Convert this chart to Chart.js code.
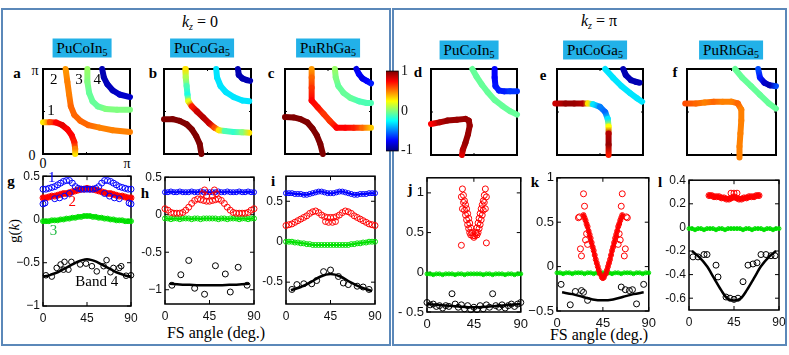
<!DOCTYPE html>
<html>
<head>
<meta charset="utf-8">
<script src="https://cdn.jsdelivr.net/npm/chart.js@4.4.1/dist/chart.umd.min.js"></script>
<style>
body { margin: 0; background: #fff; }
#fig { position: relative; width: 789px; height: 355px; overflow: hidden; font-family: "Liberation Serif", "Times New Roman", serif; color: #000; }
.frame { position: absolute; border: 2px solid #5b88b9; box-sizing: border-box; }
.pc { position: absolute; }
.t { position: absolute; white-space: nowrap; line-height: 1; transform: translate(-50%, -50%); color: #000; }
.cmp { background: #22b1e8; font-size: 15px; padding: 2px 4px 2px 4px; }
.cmp sub { font-size: 10px; vertical-align: -3px; line-height: 0; }
.lt { font-weight: bold; font-size: 15px; }
.kz { font-size: 16px; }
.kz sub { font-size: 10px; vertical-align: -3px; line-height: 0; }
</style>
</head>
<body>
<div id="fig">
  <div class="frame" style="left:1px;top:8px;width:390px;height:338px"></div>
  <div class="frame" style="left:392px;top:8px;width:395px;height:338px"></div>

  <div class="t kz" style="left:200px;top:22px"><i>k</i><sub><i>z</i></sub> = 0</div>
  <div class="t kz" style="left:599px;top:21px"><i>k</i><sub><i>z</i></sub> = π</div>

  <div class="t cmp" style="left:82px;top:48px">PuCoIn<sub>5</sub></div>
  <div class="t cmp" style="left:202px;top:48px">PuCoGa<sub>5</sub></div>
  <div class="t cmp" style="left:328px;top:48px">PuRhGa<sub>5</sub></div>
  <div class="t cmp" style="left:469px;top:50px">PuCoIn<sub>5</sub></div>
  <div class="t cmp" style="left:595px;top:50px">PuCoGa<sub>5</sub></div>
  <div class="t cmp" style="left:731px;top:50px">PuRhGa<sub>5</sub></div>

  <div class="t lt" style="left:17px;top:73px">a</div>
  <div class="t lt" style="left:153px;top:73px">b</div>
  <div class="t lt" style="left:271px;top:73px">c</div>
  <div class="t lt" style="left:418px;top:72px">d</div>
  <div class="t lt" style="left:543px;top:75px">e</div>
  <div class="t lt" style="left:675px;top:72px">f</div>

  <div class="t" style="left:35px;top:71px;font-size:14px">π</div>
  <div class="t" style="left:32px;top:156px;font-size:14px">0</div>
  <div class="t" style="left:43px;top:164px;font-size:14px">0</div>
  <div class="t" style="left:127px;top:164px;font-size:14px">π</div>

  <div class="t lt" style="left:11px;top:181px">g</div>
  <div class="t lt" style="left:145px;top:193px">h</div>
  <div class="t lt" style="left:273px;top:181px">i</div>
  <div class="t lt" style="left:410px;top:189px">j</div>
  <div class="t lt" style="left:535px;top:182px">k</div>
  <div class="t lt" style="left:660px;top:182px">l</div>

  <div class="t" style="left:14px;top:231px;font-size:15px;transform:translate(-50%,-50%) rotate(-90deg)">g(<i>k</i>)</div>
  <div class="t" style="left:216px;top:333px;font-size:16px">FS angle (deg.)</div>
  <div class="t" style="left:599px;top:335px;font-size:16px">FS angle (deg.)</div>
</div>

<script>
// ---- Fermi surface cuts (x, y in units of pi; g = gap value, colour) ----
const aB1x = [0, 0.08, 0.15, 0.22, 0.28, 0.33, 0.36, 0.37, 0.37];
const aB1y = [0.375, 0.375, 0.37, 0.34, 0.29, 0.22, 0.14, 0.06, 0];
const aB1g = [0.3, 0.6, 0.75, 0.8, 0.75, 0.75, 0.7, 0.5, 0.3];
const aB2x = [0.26, 0.28, 0.3, 0.32, 0.36, 0.43, 0.52, 0.65, 0.8, 1.0];
const aB2y = [1, 0.85, 0.7, 0.56, 0.46, 0.39, 0.34, 0.31, 0.28, 0.26];
const aB2g = [0.45, 0.5, 0.5, 0.55, 0.55, 0.55, 0.55, 0.5, 0.5, 0.5];
const aB3x = [0.51, 0.51, 0.53, 0.57, 0.63, 0.72, 0.85, 1.0];
const aB3y = [1, 0.85, 0.72, 0.62, 0.56, 0.53, 0.52, 0.52];
const aB3g = [0.05, 0, -0.05, -0.05, -0.05, 0, 0, 0];
const aB4x = [0.68, 0.7, 0.74, 0.8, 0.88, 1.0];
const aB4y = [1, 0.9, 0.82, 0.75, 0.7, 0.67];
const aB4g = [-0.9, -0.9, -0.88, -0.88, -0.85, -0.85];

const bB1x = [0, 0.1, 0.18, 0.26, 0.32, 0.37, 0.41, 0.43];
const bB1y = [0.41, 0.41, 0.39, 0.35, 0.29, 0.21, 0.12, 0];
const bB1g = [1, 1, 1, 1, 1, 1, 1, 1];
const bB2x = [0.245, 0.25, 0.26, 0.27, 0.28, 0.32, 0.38, 0.45, 0.52, 0.58, 0.63, 0.7, 0.8, 0.9, 0.98];
const bB2y = [1, 0.9, 0.8, 0.7, 0.62, 0.56, 0.5, 0.43, 0.36, 0.31, 0.28, 0.27, 0.26, 0.255, 0.25];
const bB2g = [0.3, 0.1, -0.1, -0.2, 0.2, 0.7, 0.85, 0.9, 0.85, 0.6, 0.3, -0.1, -0.15, 0, 0.3];
const bB3x = [0.6, 0.61, 0.65, 0.71, 0.8, 0.9, 0.98];
const bB3y = [1, 0.9, 0.8, 0.73, 0.67, 0.63, 0.62];
const bB3g = [-0.3, -0.3, -0.3, -0.3, -0.3, -0.3, -0.3];
const bB4x = [0.85, 0.86, 0.9, 0.95, 0.99];
const bB4y = [1, 0.93, 0.89, 0.87, 0.86];
const bB4g = [-0.9, -0.9, -0.9, -0.9, -0.9];

const cB1x = [0, 0.1, 0.18, 0.26, 0.32, 0.37, 0.41, 0.44];
const cB1y = [0.435, 0.43, 0.41, 0.37, 0.3, 0.22, 0.12, 0];
const cB1g = [1, 1, 1, 1, 1, 1, 1, 1];
const cB2x = [0.31, 0.31, 0.31, 0.31, 0.38, 0.45, 0.52, 0.6, 0.7, 0.8, 0.9, 1.0];
const cB2y = [1, 0.9, 0.78, 0.63, 0.55, 0.47, 0.39, 0.31, 0.31, 0.31, 0.31, 0.31];
const cB2g = [0.45, 0.55, 0.65, 0.75, 0.72, 0.65, 0.65, 0.75, 0.75, 0.7, 0.55, 0.35];
const cB3x = [0.58, 0.59, 0.62, 0.68, 0.76, 0.86, 0.95, 1.0];
const cB3y = [1, 0.9, 0.8, 0.72, 0.66, 0.62, 0.6, 0.6];
const cB3g = [0.05, 0, -0.05, -0.05, -0.05, -0.1, -0.1, -0.1];
const cB4x = [0.83, 0.86, 0.9, 0.95, 1.0];
const cB4y = [1, 0.94, 0.89, 0.86, 0.83];
const cB4g = [-0.8, -0.75, -0.8, -0.75, -0.7];

const dB1x = [0, 0.1, 0.19, 0.3, 0.4, 0.44, 0.45, 0.43, 0.4, 0.37, 0.36];
const dB1y = [0.36, 0.38, 0.4, 0.41, 0.42, 0.4, 0.34, 0.24, 0.14, 0.06, 0];
const dB1g = [0.75, 0.9, 0.95, 0.95, 0.95, 0.95, 0.95, 0.95, 0.95, 0.9, 0.8];
const dB3x = [0.48, 0.53, 0.59, 0.66, 0.74, 0.83, 0.92, 1.0];
const dB3y = [1, 0.91, 0.82, 0.73, 0.64, 0.57, 0.51, 0.47];
const dB3g = [-0.05, -0.05, -0.05, -0.05, -0.05, -0.05, -0.05, -0.05];
const dB4x = [0.74, 0.74, 0.75, 0.79, 0.85, 0.92, 1.0];
const dB4y = [1, 0.9, 0.8, 0.75, 0.74, 0.74, 0.74];
const dB4g = [-0.75, -0.75, -0.72, -0.7, -0.7, -0.65, -0.65];

const eB1x = [-0.02, 0.1, 0.2, 0.3, 0.36, 0.42, 0.5, 0.56, 0.59, 0.6, 0.6, 0.6, 0.6];
const eB1y = [0.6, 0.6, 0.6, 0.6, 0.6, 0.59, 0.56, 0.5, 0.42, 0.33, 0.25, 0.12, 0];
const eB1g = [0.85, 0.95, 0.95, 0.9, 0.3, -0.3, -0.5, -0.55, -0.3, 0.25, 0.9, 0.95, 0.7];
const eB3x = [0.56, 0.65, 0.75, 0.85, 0.93, 0.99];
const eB3y = [1, 0.9, 0.8, 0.72, 0.66, 0.62];
const eB3g = [-0.3, -0.3, -0.3, -0.3, -0.3, -0.3];
const eB4x = [0.77, 0.8, 0.86, 0.92, 0.96];
const eB4y = [1, 0.93, 0.87, 0.85, 0.84];
const eB4g = [-0.9, -0.9, -0.9, -0.9, -0.9];

const fB1x = [-0.02, 0.1, 0.2, 0.3, 0.4, 0.5, 0.57, 0.61, 0.61, 0.6, 0.59, 0.59];
const fB1y = [0.6, 0.6, 0.61, 0.62, 0.62, 0.62, 0.6, 0.53, 0.4, 0.25, 0.1, -0.03];
const fB1g = [0.6, 0.55, 0.5, 0.55, 0.5, 0.5, 0.55, 0.5, 0.5, 0.5, 0.5, 0.5];
const fB3x = [0.54, 0.62, 0.72, 0.82, 0.92, 1.0];
const fB3y = [1, 0.9, 0.8, 0.7, 0.6, 0.54];
const fB3g = [-0.05, -0.05, -0.05, -0.05, -0.05, -0.05];
const fB4x = [0.8, 0.82, 0.87, 0.93, 1.0];
const fB4y = [1, 0.9, 0.84, 0.81, 0.8];
const fB4g = [-0.6, -0.7, -0.85, -0.9, -0.6];

// band numbers drawn inside panel a
const aLabels = ['1', '2', '3', '4'];
const aLabelX = [0.05, 0.08, 0.37, 0.58];
const aLabelY = [0.5, 0.87, 0.87, 0.87];

// colour bar
const cbStops = [-1, -0.75, -0.25, 0.25, 0.75, 1];
const cbTicks = [-1, 0, 1];
const cbLabels = ['-1', '0', '1'];

// ---- g(k) vs FS angle ----
const ang3 = [0, 3, 6, 9, 12, 15, 18, 21, 24, 27, 30, 33, 36, 39, 42, 45, 48, 51, 54, 57, 60, 63, 66, 69, 72, 75, 78, 81, 84, 87, 90];
const xTicks = [0, 45, 90];

// g: PuCoIn5, kz = 0
const gBlue = [0.35, 0.35, 0.36, 0.37, 0.38, 0.40, 0.42, 0.44, 0.45, 0.45, 0.42, 0.38, 0.36, 0.35, 0.35, 0.35, 0.35, 0.35, 0.36, 0.38, 0.42, 0.45, 0.45, 0.44, 0.42, 0.40, 0.38, 0.37, 0.36, 0.35, 0.35];
const gBlueX2 = [0, 2, 12, 17, 22, 27, 63, 68, 73, 78, 88, 90];
const gBlueY2 = [0.18, 0.19, 0.24, 0.25, 0.27, 0.3, 0.3, 0.27, 0.25, 0.24, 0.19, 0.18];
const gRed = [0.25, 0.25, 0.26, 0.27, 0.27, 0.28, 0.29, 0.30, 0.30, 0.31, 0.32, 0.33, 0.34, 0.35, 0.35, 0.36, 0.35, 0.35, 0.34, 0.33, 0.32, 0.31, 0.30, 0.30, 0.29, 0.28, 0.27, 0.27, 0.26, 0.25, 0.25];
const gGreen = [-0.02, -0.02, -0.02, -0.01, -0.01, -0.01, 0, 0, 0.01, 0.01, 0.02, 0.02, 0.03, 0.03, 0.04, 0.04, 0.04, 0.03, 0.03, 0.02, 0.02, 0.01, 0.01, 0, 0, -0.01, -0.01, -0.01, -0.02, -0.02, -0.02];
const gBlackX = [3, 9, 14, 18, 21, 22, 26, 29, 38, 44, 50, 55, 62, 65, 69, 72, 78, 80, 85, 90];
const gBlackY = [-0.645, -0.66, -0.56, -0.52, -0.58, -0.49, -0.58, -0.49, -0.52, -0.51, -0.54, -0.6, -0.54, -0.47, -0.61, -0.56, -0.56, -0.54, -0.65, -0.645];
const gFitX = [0, 5, 10, 15, 20, 25, 30, 35, 40, 45, 50, 55, 60, 65, 70, 75, 80, 85, 90];
const gFitY = [-0.66, -0.65, -0.63, -0.61, -0.58, -0.55, -0.52, -0.49, -0.47, -0.46, -0.47, -0.49, -0.52, -0.55, -0.58, -0.61, -0.63, -0.65, -0.66];
const gYTicks = [0.5, 0, -0.5, -1];
const gYLabels = ['0.5', '0', '\u22120.5', '\u22121'];

// h: PuCoGa5, kz = 0
const hBlue = [0.30, 0.30, 0.31, 0.30, 0.30, 0.31, 0.30, 0.30, 0.30, 0.31, 0.30, 0.30, 0.31, 0.30, 0.30, 0.30, 0.30, 0.30, 0.31, 0.30, 0.30, 0.31, 0.30, 0.30, 0.30, 0.31, 0.30, 0.30, 0.31, 0.30, 0.30];
const hRed = [0.08, 0.06, 0.03, 0.02, 0.02, 0.02, 0.03, 0.06, 0.10, 0.15, 0.19, 0.21, 0.20, 0.19, 0.18, 0.18, 0.19, 0.20, 0.21, 0.19, 0.15, 0.10, 0.06, 0.03, 0.02, 0.02, 0.02, 0.02, 0.03, 0.06, 0.08];
const hRedX2 = [38, 40, 42, 48, 50, 52];
const hRedY2 = [0.28, 0.33, 0.25, 0.25, 0.33, 0.28];
const hGreen = [-0.05, -0.05, -0.06, -0.05, -0.05, -0.06, -0.05, -0.05, -0.05, -0.06, -0.05, -0.05, -0.06, -0.05, -0.05, -0.05, -0.05, -0.05, -0.06, -0.05, -0.05, -0.06, -0.05, -0.05, -0.05, -0.06, -0.05, -0.05, -0.06, -0.05, -0.05];
const hBlackX = [7, 16, 24, 30, 40, 51, 61, 66, 74, 83];
const hBlackY = [-0.94, -0.8, -0.61, -0.98, -1.06, -0.68, -0.79, -1.03, -0.7, -0.94];
const hFitX = [5, 15, 25, 35, 45, 55, 65, 75, 85];
const hFitY = [-0.92, -0.93, -0.935, -0.94, -0.94, -0.94, -0.935, -0.93, -0.92];
const hYTicks = [0.5, 0, -0.5, -1];
const hYLabels = ['0.5', '0', '-0.5', '\u22121'];

// i: PuRhGa5, kz = 0
const iBlue = [0.60, 0.60, 0.60, 0.59, 0.59, 0.59, 0.58, 0.58, 0.59, 0.60, 0.61, 0.62, 0.62, 0.61, 0.60, 0.60, 0.60, 0.61, 0.62, 0.62, 0.61, 0.60, 0.59, 0.58, 0.58, 0.59, 0.59, 0.59, 0.60, 0.60, 0.60];
const iRed = [0.20, 0.21, 0.22, 0.24, 0.26, 0.28, 0.30, 0.32, 0.35, 0.37, 0.38, 0.36, 0.33, 0.31, 0.30, 0.30, 0.30, 0.31, 0.33, 0.36, 0.38, 0.37, 0.35, 0.32, 0.30, 0.28, 0.26, 0.24, 0.22, 0.21, 0.20];
const iRedX2 = [40, 43, 47, 50];
const iRedY2 = [0.25, 0.24, 0.24, 0.25];
const iGreen = [0, 0, 0, -0.01, -0.01, -0.02, -0.02, -0.03, -0.03, -0.04, -0.04, -0.04, -0.04, -0.04, -0.04, -0.04, -0.04, -0.04, -0.04, -0.04, -0.04, -0.04, -0.03, -0.03, -0.02, -0.02, -0.01, -0.01, 0, 0, 0];
const iBlackX = [6, 11, 18, 26, 31, 38, 45, 53, 58, 63, 72, 78, 84];
const iBlackY = [-0.59, -0.53, -0.52, -0.52, -0.48, -0.37, -0.35, -0.43, -0.51, -0.53, -0.55, -0.56, -0.59];
const iFitX = [5, 15, 25, 35, 45, 55, 65, 75, 87];
const iFitY = [-0.6, -0.56, -0.5, -0.43, -0.4, -0.43, -0.5, -0.56, -0.61];
const iYTicks = [0.5, 0, -0.5];
const iYLabels = ['0.5', '0', '-0.5'];

// j: PuCoIn5, kz = pi
const jRedX = [33, 34, 35, 36, 37, 38, 39, 40, 41, 42, 43, 44, 45, 46, 47, 48, 49, 50, 51, 52, 53, 54, 55, 56, 57, 34, 35, 36, 37, 38, 39, 40, 41, 42, 48, 49, 50, 51, 52, 53, 54, 55, 56, 33, 57];
const jRedY = [0.95, 1.05, 0.97, 0.9, 0.85, 0.8, 0.74, 0.68, 0.62, 0.56, 0.5, 0.46, 0.44, 0.46, 0.5, 0.56, 0.62, 0.68, 0.74, 0.8, 0.85, 0.9, 0.97, 1.05, 0.95, 0.8, 0.88, 0.78, 0.72, 0.66, 0.6, 0.55, 0.5, 0.47, 0.47, 0.5, 0.55, 0.6, 0.66, 0.72, 0.78, 0.88, 0.8, 0.34, 0.37];
const jGreen = [-0.02, -0.02, -0.03, -0.02, -0.02, -0.03, -0.02, -0.02, -0.02, -0.03, -0.02, -0.02, -0.03, -0.02, -0.02, -0.02, -0.02, -0.02, -0.03, -0.02, -0.02, -0.03, -0.02, -0.02, -0.02, -0.03, -0.02, -0.02, -0.03, -0.02, -0.02];
const jBlack = [-0.38, -0.41, -0.4, -0.43, -0.42, -0.45, -0.42, -0.43, -0.27, -0.4, -0.44, -0.41, -0.46, -0.42, -0.47, -0.44, -0.47, -0.42, -0.46, -0.41, -0.44, -0.27, -0.42, -0.44, -0.41, -0.45, -0.42, -0.4, -0.43, -0.4, -0.38];
const jFitX = [0, 10, 20, 30, 45, 60, 70, 80, 90];
const jFitY = [-0.4, -0.41, -0.42, -0.43, -0.44, -0.43, -0.42, -0.41, -0.4];
const jYTicks = [1, 0.5, 0, -0.5];
const jYLabels = ['1', '0.5', '0', '- 0.5'];

// k: PuCoGa5, kz = pi
const kVx = [26, 28, 30, 32, 34, 36, 38, 40, 42, 44, 45, 46, 48, 50, 52, 54, 56, 58, 60, 62, 64];
const kVy = [0.58, 0.52, 0.45, 0.36, 0.27, 0.18, 0.08, 0.0, -0.08, -0.12, -0.13, -0.12, -0.08, 0.0, 0.08, 0.18, 0.27, 0.36, 0.45, 0.52, 0.58];
const kRedX = [27, 29, 31, 33, 35, 37, 39, 41, 49, 51, 53, 55, 57, 59, 61, 63];
const kRedY = [0.55, 0.48, 0.4, 0.32, 0.22, 0.13, 0.04, -0.04, -0.04, 0.04, 0.13, 0.22, 0.32, 0.4, 0.48, 0.55];
const kRedX2 = [21, 22, 23, 24, 26, 27, 28, 29, 30, 60, 61, 62, 63, 64, 66, 67, 68, 69];
const kRedY2 = [0.55, 0.56, 0.2, 0.12, 0.82, 0.68, 0.3, 0.37, 0.25, 0.25, 0.37, 0.3, 0.68, 0.82, 0.12, 0.2, 0.56, 0.55];
const kGreen = [-0.07, -0.07, -0.08, -0.07, -0.07, -0.08, -0.07, -0.07, -0.07, -0.08, -0.07, -0.07, -0.08, -0.07, -0.07, -0.07, -0.07, -0.07, -0.08, -0.07, -0.07, -0.08, -0.07, -0.07, -0.07, -0.08, -0.07, -0.07, -0.08, -0.07, -0.07];
const kBlackX = [4, 13, 18, 24, 26, 30, 63, 67, 71, 74, 78, 85];
const kBlackY = [-0.2, -0.43, -0.28, -0.27, -0.29, -0.38, -0.23, -0.26, -0.27, -0.26, -0.42, -0.2];
const kFitX = [5, 15, 25, 35, 45, 55, 65, 75, 85];
const kFitY = [-0.29, -0.31, -0.34, -0.37, -0.38, -0.37, -0.34, -0.31, -0.29];
const kYTicks = [1, 0.5, 0, -0.5];
const kYLabels = ['1', '0.5', '0', '\u22120.5'];

// l: PuRhGa5, kz = pi
const lRedX = [20, 22.5, 25, 27.5, 30, 32.5, 35, 37.5, 40, 42.5, 45, 47.5, 50, 52.5, 55, 57.5, 60, 62.5, 65, 67.5, 70];
const lRedY = [0.27, 0.27, 0.26, 0.26, 0.26, 0.25, 0.25, 0.24, 0.24, 0.25, 0.26, 0.25, 0.24, 0.24, 0.25, 0.25, 0.26, 0.26, 0.26, 0.27, 0.27];
const lRedX2 = [42, 45, 48];
const lRedY2 = [0.29, 0.29, 0.29];
const lGreen = [-0.01, -0.01, -0.02, -0.01, -0.01, -0.02, -0.01, -0.01, -0.01, -0.02, -0.01, -0.01, -0.02, -0.01, -0.01, -0.01, -0.01, -0.01, -0.02, -0.01, -0.01, -0.02, -0.01, -0.01, -0.01, -0.02, -0.01, -0.01, -0.02, -0.01, -0.01];
const lBlackX = [4, 9, 15, 18, 27, 29, 37, 41, 45, 49, 54, 59, 64, 68, 72, 77, 82, 86];
const lBlackY = [-0.25, -0.25, -0.23, -0.23, -0.32, -0.42, -0.59, -0.6, -0.61, -0.6, -0.46, -0.32, -0.31, -0.3, -0.23, -0.23, -0.24, -0.24];
const lFitX = [3, 10, 18, 25, 32, 38, 45, 52, 58, 65, 72, 80, 87];
const lFitY = [-0.2, -0.25, -0.33, -0.43, -0.53, -0.6, -0.62, -0.6, -0.53, -0.43, -0.33, -0.25, -0.2];
const lYTicks = [0.4, 0.2, 0, -0.2, -0.4, -0.6];
const lYLabels = ['0.4', '0.2', '0', '-0.2', '-0.4', '-0.6'];

// labels inside panel g
const gLabels = ['1', '2', '3', 'Band 4'];
const gLabelX = [5, 26, 7, 33];
const gLabelY = [0.48, 0.2, -0.13, -0.72];

const BLUE = '#0000ff', RED = '#ff0000', GREEN = '#00e000', BLACK = '#000000';
const gLabelC = [BLUE, RED, '#22bb44', BLACK];

Chart.defaults.animation = false;
Chart.defaults.font.family = '"Liberation Sans", Arial, sans-serif';
Chart.defaults.color = '#111';
Chart.defaults.plugins.legend.display = false;
Chart.defaults.plugins.tooltip.enabled = false;

// box with inward ticks, drawn before the data; optional text labels in data units
const framePlugin = {
    id: 'frame',
    beforeDatasetsDraw(chart, args, opts) {
        const { ctx, chartArea: a, scales } = chart;
        const len = opts.len || 4;
        ctx.save();
        ctx.strokeStyle = '#000';
        ctx.lineWidth = opts.width || 1.5;
        ctx.strokeRect(a.left, a.top, a.right - a.left, a.bottom - a.top);
        ctx.lineWidth = 1;
        ctx.beginPath();
        (opts.xt || []).forEach(v => {
            const px = scales.x.getPixelForValue(v);
            ctx.moveTo(px, a.bottom); ctx.lineTo(px, a.bottom - len);
            ctx.moveTo(px, a.top); ctx.lineTo(px, a.top + len);
        });
        (opts.yt || []).forEach(v => {
            const py = scales.y.getPixelForValue(v);
            ctx.moveTo(a.left, py); ctx.lineTo(a.left + len, py);
            ctx.moveTo(a.right, py); ctx.lineTo(a.right - len, py);
        });
        ctx.stroke();
        ctx.restore();
    },
    afterDatasetsDraw(chart, args, opts) {
        if (!opts.text) return;
        const { ctx, scales } = chart;
        const t = opts.text;
        ctx.save();
        ctx.font = '15px "Liberation Serif", serif';
        ctx.textBaseline = 'middle';
        ctx.textAlign = 'left';
        t.s.forEach((s, i) => {
            ctx.fillStyle = t.c ? t.c[i] : '#000';
            ctx.fillText(s, scales.x.getPixelForValue(t.x[i]), scales.y.getPixelForValue(t.y[i]));
        });
        ctx.restore();
    }
};
Chart.register(framePlugin);

// jet colour map, g in [-1, 1]
function jet(g) {
    const t = (g + 1) / 2;
    const c = v => Math.round(255 * Math.max(0, Math.min(1, 1.5 - Math.abs(4 * t - v))));
    return `rgb(${c(3)},${c(2)},${c(1)})`;
}

function pts(xs, ys) {
    return xs.map((x, i) => ({ x, y: ys[i] }));
}

function makeCanvas(left, top, w, h) {
    const d = document.createElement('div');
    d.className = 'pc';
    Object.assign(d.style, { left: left + 'px', top: top + 'px', width: w + 'px', height: h + 'px' });
    const c = document.createElement('canvas');
    d.appendChild(c);
    document.getElementById('fig').appendChild(d);
    return c;
}

// one band of a Fermi surface, coloured by its g values
function band(xs, ys, gs) {
    return {
        data: pts(xs, ys),
        showLine: true, pointRadius: 0, borderWidth: 6,
        borderCapStyle: 'round', borderJoinStyle: 'round', clip: false,
        borderColor: jet(gs[0]),
        segment: {
            borderColor: ctx => {
                const gr = ctx.chart.ctx.createLinearGradient(ctx.p0.x, ctx.p0.y, ctx.p1.x, ctx.p1.y);
                gr.addColorStop(0, jet(gs[ctx.p0DataIndex]));
                gr.addColorStop(1, jet(gs[ctx.p1DataIndex]));
                return gr;
            }
        }
    };
}

function fsPanel(box, bands, text) {
    const [L, T, R, B] = box, p = 6;
    const cv = makeCanvas(L - p, T - p, R - L + 2 * p, B - T + 2 * p);
    new Chart(cv, {
        type: 'scatter',
        data: { datasets: bands },
        options: {
            responsive: true, maintainAspectRatio: false,
            layout: { padding: p },
            scales: {
                x: { type: 'linear', min: 0, max: 1, display: false },
                y: { min: 0, max: 1, display: false }
            },
            plugins: { frame: { xt: [0.5], yt: [0.5], width: 2, len: 2, text } }
        }
    });
}

function circles(xs, ys, color, r) {
    return {
        data: pts(xs, ys), pointStyle: 'circle', pointRadius: r,
        borderColor: color, backgroundColor: 'rgba(0,0,0,0)', borderWidth: 1, clip: false
    };
}

// solid trace under dense circles
function trace(xs, ys, color, w) {
    return {
        data: pts(xs, ys), showLine: true, pointRadius: 0, borderWidth: w,
        borderColor: color, borderCapStyle: 'round', borderJoinStyle: 'round', clip: false
    };
}

function fitLine(xs, ys) {
    return {
        data: pts(xs, ys), showLine: true, pointRadius: 0, borderWidth: 2.5,
        borderColor: BLACK, cubicInterpolationMode: 'monotone', clip: false
    };
}

function gPanel(box, datasets, yMin, yMax, yTicks, yLabels, fs, text) {
    const [L, T, R, B] = box, pl = 36, pt = 10, pr = 12, pb = 24;
    const cv = makeCanvas(L - pl, T - pt, R - L + pl + pr, B - T + pt + pb);
    new Chart(cv, {
        type: 'scatter',
        data: { datasets },
        options: {
            responsive: true, maintainAspectRatio: false,
            layout: { padding: { top: pt, right: pr, left: 0, bottom: 0 } },
            scales: {
                x: {
                    type: 'linear', min: 0, max: 90,
                    afterBuildTicks: s => { s.ticks = xTicks.map(v => ({ value: v })); },
                    afterFit: s => { s.height = pb; },
                    grid: { display: false, drawTicks: false }, border: { display: false },
                    ticks: { font: { size: fs }, padding: 5, maxRotation: 0, color: '#111' }
                },
                y: {
                    min: yMin, max: yMax,
                    afterBuildTicks: s => { s.ticks = yTicks.map(v => ({ value: v })); },
                    afterFit: s => { s.width = pl; },
                    grid: { display: false, drawTicks: false }, border: { display: false },
                    ticks: { font: { size: fs }, padding: 3, color: '#111', callback: (v, i) => yLabels[i] }
                }
            },
            plugins: { frame: { xt: xTicks, yt: yTicks, width: 1.5, len: 4, text } }
        }
    });
}

// Fermi surface panels
fsPanel([43, 69, 130, 154], [band(aB1x, aB1y, aB1g), band(aB2x, aB2y, aB2g), band(aB3x, aB3y, aB3g), band(aB4x, aB4y, aB4g)],
    { s: aLabels, x: aLabelX, y: aLabelY });
fsPanel([164, 69, 251, 154], [band(bB1x, bB1y, bB1g), band(bB2x, bB2y, bB2g), band(bB3x, bB3y, bB3g), band(bB4x, bB4y, bB4g)]);
fsPanel([285, 69, 371, 154], [band(cB1x, cB1y, cB1g), band(cB2x, cB2y, cB2g), band(cB3x, cB3y, cB3g), band(cB4x, cB4y, cB4g)]);
fsPanel([431, 69, 517, 155], [band(dB1x, dB1y, dB1g), band(dB3x, dB3y, dB3g), band(dB4x, dB4y, dB4g)]);
fsPanel([557, 69, 643, 155], [band(eB1x, eB1y, eB1g), band(eB3x, eB3y, eB3g), band(eB4x, eB4y, eB4g)]);
fsPanel([687, 69, 776, 155], [band(fB1x, fB1y, fB1g), band(fB3x, fB3y, fB3g), band(fB4x, fB4y, fB4g)]);

// colour bar
const cbCanvas = makeCanvas(386, 60, 30, 102);
new Chart(cbCanvas, {
    type: 'bar',
    data: {
        labels: [''],
        datasets: [{
            data: [[cbTicks[0], cbTicks[cbTicks.length - 1]]],
            barPercentage: 1, categoryPercentage: 1, borderWidth: 0,
            backgroundColor: ctx => {
                const a = ctx.chart.chartArea;
                if (!a) return '#888';
                const gr = ctx.chart.ctx.createLinearGradient(0, a.bottom, 0, a.top);
                cbStops.forEach(g => gr.addColorStop((g + 1) / 2, jet(g)));
                return gr;
            }
        }]
    },
    options: {
        responsive: true, maintainAspectRatio: false,
        layout: { padding: { top: 8, bottom: 8, left: 0, right: 0 } },
        scales: {
            x: { display: false },
            y: {
                position: 'right', min: -1, max: 1,
                afterBuildTicks: s => { s.ticks = cbTicks.map(v => ({ value: v })); },
                afterFit: s => { s.width = 18; },
                grid: { display: false, drawTicks: false }, border: { display: false },
                ticks: { padding: 3, color: '#111', font: { family: '"Liberation Serif", serif', size: 14 }, callback: (v, i) => cbLabels[i] }
            }
        },
        plugins: { frame: { width: 1.5 } }
    }
});

// g(k) panels
gPanel([43, 176, 131, 306], [
    fitLine(gFitX, gFitY), circles(gBlackX, gBlackY, BLACK, 2.8),
    circles(ang3, gBlue, BLUE, 3), circles(gBlueX2, gBlueY2, BLUE, 3),
    circles(ang3, gRed, RED, 3), trace(ang3, gRed, RED, 5),
    circles(ang3, gGreen, GREEN, 2.5), trace(ang3, gGreen, GREEN, 4)
], -1, 0.5, gYTicks, gYLabels, 12, { s: gLabels, x: gLabelX, y: gLabelY, c: gLabelC });

gPanel([165, 177, 254, 304], [
    fitLine(hFitX, hFitY), circles(hBlackX, hBlackY, BLACK, 3),
    circles(ang3, hRed, RED, 3), circles(hRedX2, hRedY2, RED, 3),
    circles(ang3, hGreen, GREEN, 2.5), trace(ang3, hGreen, GREEN, 2),
    circles(ang3, hBlue, BLUE, 2.5), trace(ang3, hBlue, BLUE, 2)
], -1.19, 0.5, hYTicks, hYLabels, 12);

gPanel([286, 176, 375, 304], [
    fitLine(iFitX, iFitY), circles(iBlackX, iBlackY, BLACK, 3),
    circles(ang3, iRed, RED, 3), circles(iRedX2, iRedY2, RED, 3),
    circles(ang3, iGreen, GREEN, 2.5), trace(ang3, iGreen, GREEN, 2),
    circles(ang3, iBlue, BLUE, 2.5), trace(ang3, iBlue, BLUE, 2)
], -0.77, 0.81, iYTicks, iYLabels, 12);

gPanel([427, 177, 521, 312], [
    fitLine(jFitX, jFitY), circles(ang3, jBlack, BLACK, 3),
    circles(jRedX, jRedY, RED, 3), circles(ang3, jGreen, GREEN, 2), trace(ang3, jGreen, GREEN, 3)
], -0.5, 1.19, jYTicks, jYLabels, 13);

gPanel([557, 177, 649, 311], [
    fitLine(kFitX, kFitY), circles(kBlackX, kBlackY, BLACK, 3),
    circles(kVx, kVy, RED, 2.5), trace(kVx, kVy, RED, 4),
    circles(kRedX, kRedY, RED, 2.5), circles(kRedX2, kRedY2, RED, 3),
    circles(ang3, kGreen, GREEN, 2), trace(ang3, kGreen, GREEN, 3)
], -0.5, 1, kYTicks, kYLabels, 13);

gPanel([689, 180, 779, 310], [
    fitLine(lFitX, lFitY), circles(lBlackX, lBlackY, BLACK, 3),
    circles(lRedX2, lRedY2, RED, 3), circles(lRedX, lRedY, RED, 3), trace(lRedX, lRedY, RED, 5),
    circles(ang3, lGreen, GREEN, 2), trace(ang3, lGreen, GREEN, 3)
], -0.7, 0.4, lYTicks, lYLabels, 12);
</script>
</body>
</html>
